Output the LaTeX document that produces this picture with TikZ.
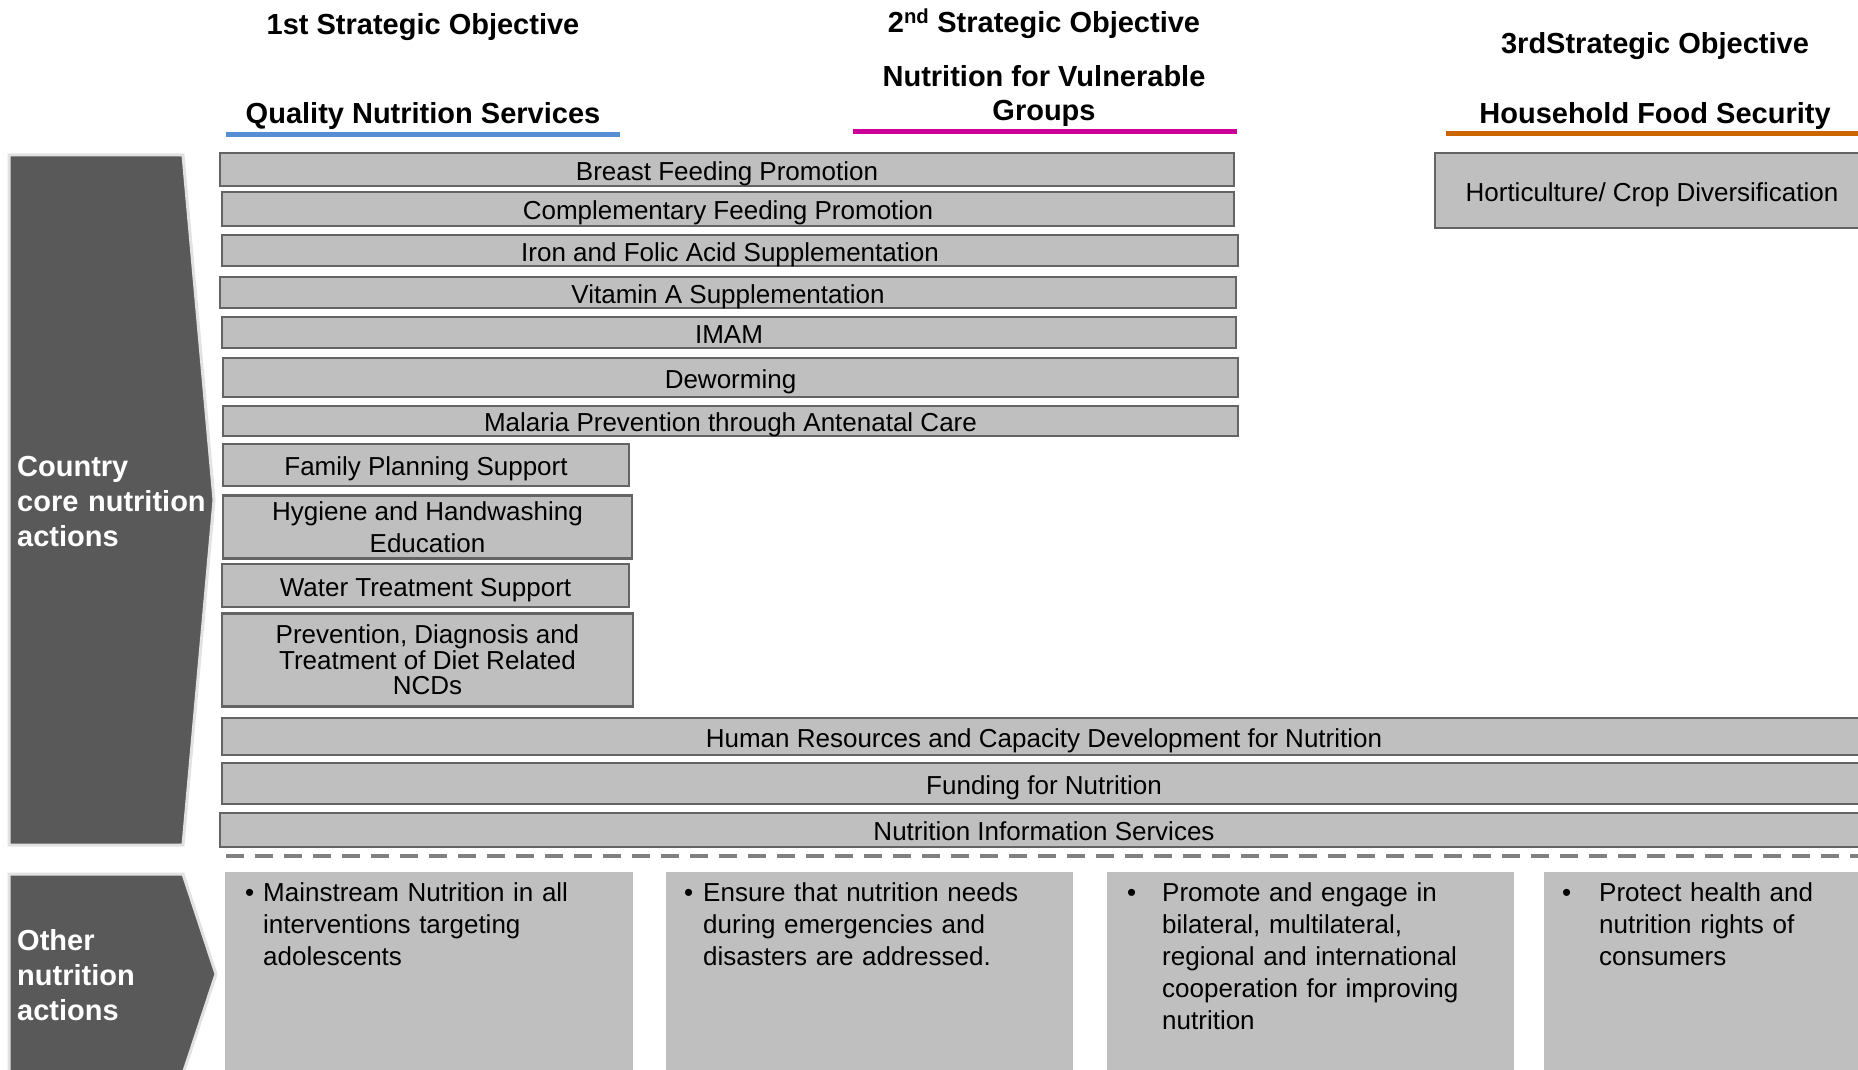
\documentclass[tikz,border=0pt]{standalone}
\usepackage{fontspec}
\setmainfont{Liberation Sans}
\definecolor{boxfill}{HTML}{BFBFBF}
\definecolor{boxline}{HTML}{646464}
\definecolor{darkshape}{HTML}{595959}
\definecolor{shapeedge}{HTML}{E2E2E2}
\definecolor{dashgray}{HTML}{808080}
\definecolor{objblue}{HTML}{558ED5}
\definecolor{objmagenta}{HTML}{CC0099}
\definecolor{objorange}{HTML}{CC6600}
\tikzset{
  bar/.style={draw=boxline, fill=boxfill, line width=2.5pt, inner sep=0pt,
    font=\fontsize{26}{32}\selectfont, text height=22pt, text depth=1pt},
  bartwo/.style={draw=boxline, fill=boxfill, line width=2.5pt, inner sep=0pt,
    align=center},
  note/.style={fill=boxfill, inner sep=0pt, anchor=north west, minimum height=230pt},
  notetext/.style={anchor=base west, inner sep=0pt, text width=#1, align=left,
    font=\fontsize{26}{32}\selectfont},
  bullet/.style={anchor=base west, inner sep=0pt, font=\fontsize{26}{32}\selectfont},
  title/.style={anchor=base, inner sep=0pt, font=\bfseries\fontsize{29}{34}\selectfont, align=center},
  side/.style={fill=darkshape, draw=shapeedge, line width=3pt},
  sidetext/.style={anchor=base west, inner sep=0pt, text width=200pt, align=left,
    text=white, font=\bfseries\fontsize{29}{35}\selectfont},
  objline/.style={line width=5pt},
  sep/.style={draw=dashgray, line width=4pt, dash pattern=on 18pt off 11pt}
}
\begin{document}
\begin{tikzpicture}[x=1pt,y=-1pt]
\useasboundingbox (0,0) rectangle (1858,1070);
\clip (0,0) rectangle (1858,1070);
\fill[white] (0,0) rectangle (1858,1070);

% side shapes
\draw[side] (9,155) -- (183,155) -- (214,500) -- (183,845) -- (9,845) -- cycle;
\node[sidetext] (core) at (17,476) {Country\\core nutrition\\actions};
\draw[side] (9,874) -- (183,874) -- (216,974) -- (183,1074) -- (9,1074) -- cycle;
\node[sidetext] (other) at (17,950) {Other\\nutrition\\actions};

% titles
\node[title] (o1) at (423,35) {1st Strategic Objective};
\node[title] (q1) at (423,124) {Quality Nutrition Services};
\node[title] (o2) at (1044,33) {2\textsuperscript{nd} Strategic Objective};
\node[title] (q2a) at (1044,87) {Nutrition for Vulnerable};
\node[title] (q2b) at (1044,121) {Groups};
\node[title] (o3) at (1655,54) {3rdStrategic Objective};
\node[title] (q3) at (1655,124) {Household Food Security};
\coordinate (b1s) at (226,134.5); \coordinate (b1e) at (620,134.5);
\coordinate (b2s) at (853,132); \coordinate (b2e) at (1237,132);
\coordinate (b3s) at (1446,134); \coordinate (b3e) at (1870,134);
\draw[objline, objblue, line width=4.5pt] (b1s) -- (b1e);
\draw[objline, objmagenta] (b2s) -- (b2e);
\draw[objline, objorange] (b3s) -- (b3e);

% core action bars
\node[bar, minimum width=1014pt, minimum height=33pt] (bfp) at (727,169.5) {Breast Feeding Promotion};
\node[bar, minimum width=1012pt, minimum height=34pt] (cfp) at (728,209) {Complementary Feeding Promotion};
\node[bar, minimum width=1016pt, minimum height=31pt] (ifa) at (730,250.5) {Iron and Folic Acid Supplementation};
\node[bar, minimum width=1016pt, minimum height=31pt] (vita) at (728,292.5) {Vitamin A Supplementation};
\node[bar, minimum width=1014pt, minimum height=31pt] (imam) at (729,332.5) {IMAM};
\node[bar, minimum width=1015pt, minimum height=39pt] (dew) at (730.5,377.5) {Deworming};
\node[bar, minimum width=1015pt, minimum height=30pt] (mal) at (730.5,421) {Malaria Prevention through Antenatal Care};
\node[bar, minimum width=406pt, minimum height=42pt] (fps) at (426,465) {Family Planning Support};
\node[bartwo, minimum width=409pt, minimum height=63pt, font=\fontsize{26}{32}\selectfont] (hyg) at (427.5,527) {Hygiene and Handwashing\\Education};
\node[bar, minimum width=407pt, minimum height=43pt] (wts) at (425.5,585.5) {Water Treatment Support};
\node[bartwo, minimum width=411pt, minimum height=93pt, font=\fontsize{26}{25.5}\selectfont] (ncd) at (427.5,660) {Prevention, Diagnosis and\\Treatment of Diet Related\\NCDs};
\node[bar, minimum width=1644pt, minimum height=37pt] (hr) at (1044,736.5) {Human Resources and Capacity Development for Nutrition};
\node[bar, minimum width=1644pt, minimum height=41pt] (fund) at (1044,783.5) {Funding for Nutrition};
\node[bar, minimum width=1648pt, minimum height=34pt] (nis) at (1044,830) {Nutrition Information Services};
\node[bar, minimum width=434pt, minimum height=75pt] (hort) at (1652,190.5) {Horticulture/ Crop Diversification};

% separator
\coordinate (sepa) at (226,856); \coordinate (sepb) at (1870,856);
\draw[sep] (sepa) -- (sepb);

% other actions
\node[note, minimum width=408pt] (n1) at (225,872) {};
\node[note, minimum width=407pt] (n2) at (666,872) {};
\node[note, minimum width=407pt] (n3) at (1107,872) {};
\node[note, minimum width=330pt] (n4) at (1544,872) {};
\node[bullet] (d1) at (245,901) {•};
\node[notetext=360pt] (t1) at (263,901) {Mainstream Nutrition in all\\interventions targeting\\adolescents};
\node[bullet] (d2) at (684,901) {•};
\node[notetext=360pt] (t2) at (703,901) {Ensure that nutrition needs\\during emergencies and\\disasters are addressed.};
\node[bullet] (d3) at (1127,901) {•};
\node[notetext=340pt] (t3) at (1162,901) {Promote and engage in\\bilateral, multilateral,\\regional and international\\cooperation for improving\\nutrition};
\node[bullet] (d4) at (1562,901) {•};
\node[notetext=260pt] (t4) at (1599,901) {Protect health and\\nutrition rights of\\consumers};
\end{tikzpicture}
\end{document}
